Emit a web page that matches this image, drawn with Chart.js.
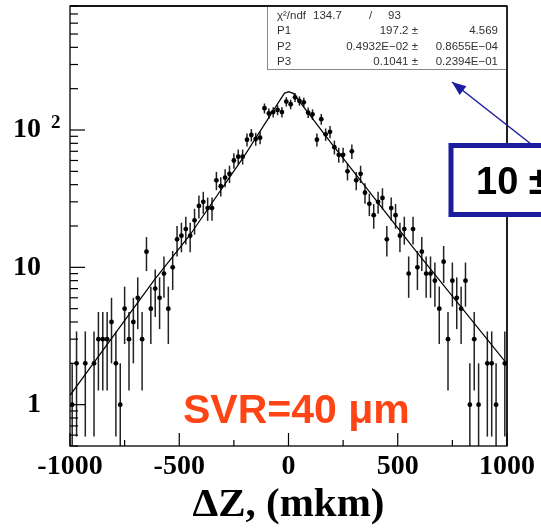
<!DOCTYPE html>
<html><head><meta charset="utf-8">
<script src="https://cdn.jsdelivr.net/npm/chart.js@4.4.0/dist/chart.umd.min.js"></script>
<style>html,body{margin:0;padding:0;background:#fff;}#wrap{width:541px;height:530px;position:relative;}</style>
</head><body><div id="wrap"><canvas id="c" width="541" height="530"></canvas></div>
<script>
// ---- data ----
const binCenters = [
 -990,-970,-950,-930,-910,-890,-870,-850,-830,-810,
 -790,-770,-750,-730,-710,-690,-670,-650,-630,-610,
 -590,-570,-550,-530,-510,-490,-470,-450,-430,-410,
 -390,-370,-350,-330,-310,-290,-270,-250,-230,-210,
 -190,-170,-150,-130,-110,-90,-70,-50,-30,-10,
 10,30,50,70,90,110,130,150,170,190,
 210,230,250,270,290,310,330,350,370,390,
 410,430,450,470,490,510,530,550,570,590,
 610,630,650,670,690,710,730,750,770,790,
 810,830,850,870,890,910,930,950,970,990];
const counts = [
 1,2,null,2,null,2,3,3,3,4,
 2,1,5,3,4,6,3,13,5,7,
 6,9,5,10,16,17,19,17,22,28,
 30,27,27,43,39,45,48,60,64,64,
 85,92,86,88,144,132,135,140,135,161,
 154,173,163,159,134,130,85,120,93,97,
 75,66,66,50,70,43,48,35,29,24,
 30,32,16,27,24,17,19,9,19,10,
 13,9,9,8,5,11,3,8,6,5,
 8,1,3,1,null,2,2,1,null,2];
const fitX = [-1000,-614,-451,-199,-39,-19,0,22,191,579,1000];
const fitY = [1.17,8.1,17.2,66,165,185,190,185,82,13.4,1.98];
const xMajorTicks = [-1000,-500,0,500,1000];
const xMinorTicks = [-750,-250,250,750];
const yMajorTicks = [1,10,100];
const yMinorTicks = [0.5,0.6,0.7,0.8,0.9,2,3,4,5,6,7,8,9,20,30,40,50,60,70,80,90,200,300,400,500,600,700,800];
const statsRows = [
 ['P1','197.2 \u00b1','4.569'],
 ['P2','0.4932E\u221202 \u00b1','0.8655E\u221204'],
 ['P3','0.1041 \u00b1','0.2394E\u221201']];
const chiText = ['\u03c7\u00b2/ndf','134.7','/','93'];
const xTitle = '\u0394Z, (mkm)';
const svrText = 'SVR=40 \u03bcm';
const boxText = '10 \u00b1';

const serif = '"Liberation Serif","Times New Roman",serif';
const sans = '"Liberation Sans",Arial,Helvetica,sans-serif';

const points = [];
binCenters.forEach((x,i)=>{ if(counts[i]!==null) points.push({x:x,y:counts[i]}); });
const fitPts = fitX.map((x,i)=>({x:x,y:fitY[i]}));

const decor = {
  id:'decor',
  beforeDatasetsDraw(chart){
    const {ctx, chartArea:a, scales:{x,y}} = chart;
    ctx.save();
    ctx.beginPath(); ctx.rect(a.left,a.top,a.right-a.left,a.bottom-a.top); ctx.clip();
    ctx.strokeStyle='#222'; ctx.lineWidth=1.5;
    points.forEach(p=>{
      const e=Math.sqrt(p.y);
      const px=x.getPixelForValue(p.x);
      const lo=p.y-e;
      const yTop=y.getPixelForValue(p.y+e);
      const yBot= lo>0 ? y.getPixelForValue(lo) : a.bottom+2;
      ctx.beginPath(); ctx.moveTo(px,yTop); ctx.lineTo(px,yBot); ctx.stroke();
    });
    ctx.restore();
  },
  afterDraw(chart){
    const {ctx, chartArea:a, scales:{x,y}} = chart;
    ctx.save();
    // frame
    ctx.strokeStyle='#000'; ctx.lineWidth=1.3;
    ctx.strokeRect(a.left,a.top,a.right-a.left,a.bottom-a.top);
    // y ticks (inward)
    ctx.lineWidth=1.2;
    yMajorTicks.forEach(v=>{const py=y.getPixelForValue(v); ctx.beginPath(); ctx.moveTo(a.left,py); ctx.lineTo(a.left+15,py); ctx.stroke();});
    yMinorTicks.forEach(v=>{const py=y.getPixelForValue(v); ctx.beginPath(); ctx.moveTo(a.left,py); ctx.lineTo(a.left+8,py); ctx.stroke();});
    // x ticks (inward)
    xMajorTicks.forEach(v=>{const px=x.getPixelForValue(v); ctx.beginPath(); ctx.moveTo(px,a.bottom); ctx.lineTo(px,a.bottom-13); ctx.stroke();});
    xMinorTicks.forEach(v=>{const px=x.getPixelForValue(v); ctx.beginPath(); ctx.moveTo(px,a.bottom); ctx.lineTo(px,a.bottom-6); ctx.stroke();});
    // superscript of 10^2
    ctx.fillStyle='#000'; ctx.font='bold 19px '+serif; ctx.textAlign='left'; ctx.textBaseline='alphabetic';
    ctx.fillText('2', 51, y.getPixelForValue(100)-2);
    // stats box
    const bx=267, by=a.top, bw=a.right-267, bh=63;
    ctx.fillStyle='#fff'; ctx.fillRect(bx,by,bw,bh);
    ctx.strokeStyle='#888'; ctx.lineWidth=1; ctx.strokeRect(bx+0.5,by+0.5,bw-1,bh);
    ctx.fillStyle='#333'; ctx.font='11.5px '+sans;
    ctx.textAlign='left';
    ctx.fillText(chiText[0],277,18.5);
    ctx.fillText(chiText[1],313,18.5);
    ctx.fillText(chiText[2],369,18.5);
    ctx.fillText(chiText[3],388,18.5);
    const rowsY=[34,49.5,65];
    statsRows.forEach((r,i)=>{
      ctx.textAlign='left'; ctx.fillText(r[0],277,rowsY[i]);
      ctx.textAlign='right'; ctx.fillText(r[1],418,rowsY[i]); ctx.fillText(r[2],498,rowsY[i]);
    });
    // frame edges again over box
    ctx.strokeStyle='#000'; ctx.lineWidth=1.3;
    ctx.beginPath(); ctx.moveTo(a.right,a.top); ctx.lineTo(a.right,a.bottom); ctx.stroke();
    ctx.beginPath(); ctx.moveTo(a.left,a.top); ctx.lineTo(a.right,a.top); ctx.stroke();
    // annotation arrow
    const blue='#1c1c9e';
    ctx.strokeStyle=blue; ctx.fillStyle=blue; ctx.lineWidth=1.5;
    const tx=452, ty=82, sx=531, sy=144;
    ctx.beginPath(); ctx.moveTo(sx,sy); ctx.lineTo(tx,ty); ctx.stroke();
    const ang=Math.atan2(ty-sy,tx-sx), L=14, W=5.5;
    const bxp=tx-L*Math.cos(ang), byp=ty-L*Math.sin(ang);
    ctx.beginPath(); ctx.moveTo(tx,ty);
    ctx.lineTo(bxp+W*Math.sin(ang), byp-W*Math.cos(ang));
    ctx.lineTo(bxp-W*Math.sin(ang), byp+W*Math.cos(ang));
    ctx.closePath(); ctx.fill();
    // annotation box
    ctx.fillStyle='#fff'; ctx.fillRect(451,145.5,120,69);
    ctx.lineWidth=5; ctx.strokeStyle=blue; ctx.strokeRect(451,145.5,120,69);
    ctx.fillStyle='#000'; ctx.font='bold 38px '+sans; ctx.textAlign='left'; ctx.textBaseline='alphabetic';
    ctx.fillText(boxText,476,194);
    // SVR text
    ctx.fillStyle='#ff4516'; ctx.font='bold 41px '+sans;
    ctx.fillText(svrText,183,423);
    ctx.restore();
  }
};

new Chart(document.getElementById('c').getContext('2d'), {
  type:'scatter',
  data:{datasets:[
    {label:'data', data:points, pointRadius:2.4, pointBackgroundColor:'#000', pointBorderColor:'#000', pointBorderWidth:0, showLine:false, order:1},
    {label:'fit', type:'line', data:fitPts, borderColor:'#000', borderWidth:1.2, pointRadius:0, fill:false, tension:0, order:2}
  ]},
  options:{
    responsive:false, animation:false, devicePixelRatio:1,
    layout:{padding:{left:0,right:34,top:6,bottom:0}},
    plugins:{legend:{display:false}, tooltip:{enabled:false}},
    scales:{
      x:{type:'linear', min:-1000, max:1000,
        grid:{display:false, drawTicks:false}, border:{display:false},
        afterBuildTicks:s=>{s.ticks=xMajorTicks.map(v=>({value:v}));},
        ticks:{font:{family:serif,size:28,weight:'bold'}, color:'#000', padding:4, maxRotation:0, autoSkip:false, callback:v=>String(v)},
        title:{display:true, text:xTitle, font:{family:serif,size:41,weight:'bold'}, color:'#000', padding:{top:0,bottom:0}},
        afterFit:s=>{s.height=84; s.paddingLeft=0; s.paddingRight=0;}
      },
      y:{type:'logarithmic', min:0.5, max:800,
        grid:{display:false, drawTicks:false}, border:{display:false},
        afterBuildTicks:s=>{s.ticks=yMajorTicks.map(v=>({value:v, major:true}));},
        ticks:{font:{family:serif,size:28,weight:'bold'}, color:'#000', padding:29, autoSkip:false, callback:v=>(v===100?'10':String(v))},
        afterFit:s=>{s.width=70; s.paddingTop=0; s.paddingBottom=0;}
      }
    }
  },
  plugins:[decor]
});
</script></body></html>
